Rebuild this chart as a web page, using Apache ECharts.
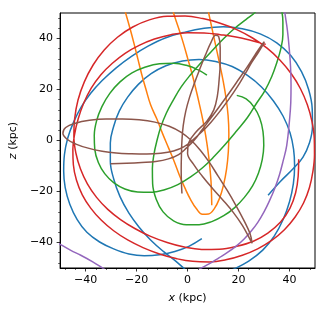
<!DOCTYPE html>
<html><head><meta charset="utf-8">
<script src="https://cdn.jsdelivr.net/npm/echarts@6/dist/echarts.min.js"></script>
<style>html,body{margin:0;padding:0;background:#fff}#c{width:328px;height:314px}</style>
</head><body><div id="c"></div>
<script>
// tick values / labels
const xTickValues = [-40, -20, 0, 20, 40];
const yTickValues = [-40, -20, 0, 20, 40];
const xMinorTicks = [-48,-44,-36,-32,-28,-24,-16,-12,-8,-4,4,8,12,16,24,28,32,36,44,48];
const yMinorTicks = [-48,-44,-36,-32,-28,-24,-16,-12,-8,-4,4,8,12,16,24,28,32,36,44,48];
const xName = '{i|x} (kpc)';
const yName = '{i|z} (kpc)';

// orbit traces [x (kpc), z (kpc)]
const blueA = [[5.6,-38.5],[0.5,-41.5],[-5,-43.5],[-11,-44.8],[-17,-45.2],[-23,-44.5],[-29,-42.5],[-34.5,-39.8],[-39.5,-36],[-43.3,-31],[-46.2,-25],[-48,-18.5],[-48.6,-12],[-48.3,-5.5],[-47,1],[-44.8,7],[-41.8,13],[-38,18.5],[-33.5,23.5],[-28,28.5],[-22,33],[-15.5,37],[-8.5,40.3],[-1,42.5],[6.5,44],[14,44.6],[21.5,43.8],[28.5,41.8],[35,38.3],[40.5,33.3],[44.7,27],[47.5,20],[48.9,12.5],[49,5.5],[47.8,-1],[45.3,-6.5],[41.5,-11],[36.5,-16],[31.6,-21.5]];
const blueB = [[2,-53],[-1,-50.5],[-5,-47],[-9.5,-43.5],[-14.5,-39],[-19,-34],[-23,-28.5],[-26.5,-22],[-29,-15],[-30.3,-8],[-30.3,-1],[-29,5.5],[-26.8,11.5],[-23.5,17],[-19.3,22],[-14.3,26.2],[-8.5,29.3],[-2,31.2],[4.5,31.8],[11,31],[17.5,29],[23.5,25.5],[29,21],[33.7,15.5],[37.5,9.5],[40.2,3],[41.6,-3.5],[42,-10],[41.5,-17],[40,-24],[37.5,-31],[34,-37.5],[29.5,-43],[24,-47.3],[18,-50.5],[12,-53]];
const orangeA = [[-26.4,57],[-24.3,50],[-22.6,44],[-21,38],[-19.5,32],[-18,26],[-16.3,20],[-14.5,14],[-12,8.3],[-9.8,2.7],[-7.5,-2.8],[-5.2,-8.3],[-3.2,-13.6],[-1,-18.7],[1.2,-23.2],[3.5,-26.8],[5.8,-28.9],[8.2,-28.8],[10.5,-26.7],[12.5,-22.8],[14.1,-17.5],[15.3,-11.2],[16,-4.3],[16.2,2.8],[15.9,9.8],[15.1,16.6],[14,23.2],[12.7,29.6],[11.3,36],[9.9,42.5],[8.5,49],[7,56]];
const orangeB = [[-7.5,57],[-5.5,50],[-3.5,44],[-1.6,38],[0.1,32],[1.8,26],[3.3,20],[4.7,14],[6,8],[7.1,2],[8,-4],[8.7,-10],[9.2,-16],[9.4,-21],[9.5,-25.4]];
const green = [[7.6,25.6],[4,27.8],[-0.5,29.5],[-5.5,30.3],[-11,30.1],[-16.5,28.8],[-21.8,26.5],[-26.5,23],[-30.5,18.5],[-33.6,13.3],[-35.7,7.7],[-36.6,2],[-36.4,-3.5],[-35,-8.6],[-32.5,-13],[-29,-16.5],[-24.6,-19],[-19.6,-20.2],[-14.3,-20.3],[-9,-19.3],[-3.8,-17.3],[1.2,-14.3],[6,-10.6],[10.5,-6.2],[15,-1.3],[19.3,3.8],[23.5,9],[27,14.5],[30.3,19.5],[33,25],[35,30.5],[36.6,36],[37.4,41.5],[37.4,46.5],[36.8,51.5],[35.2,55.5],[32.8,57.5],[30.3,56.5],[28.5,53.5],[26.5,50.3],[23,47.5],[18.5,44],[14.2,40],[9.8,35.4],[5,30.2],[1,25.6],[-2.5,21],[-5.5,16],[-8.3,10.8],[-10.5,5.3],[-12,0],[-13.2,-5.5],[-13.8,-11],[-13.7,-17],[-12.3,-23],[-9.6,-28],[-5.5,-31.5],[-0.5,-33],[4.5,-33],[9.5,-31.8],[14.2,-29.5],[18.5,-26.3],[22.3,-22.3],[25.5,-17.8],[27.8,-12.8],[29.3,-7.5],[29.9,-2],[29.6,3.5],[28.3,8.8],[26,13.2],[23,16.3],[19.3,17.7]];
const red = [[30.7,37.7],[25,39.2],[19,40.6],[12.8,41.5],[6.5,42.2],[0,42.3],[-6.5,41.5],[-13,39.8],[-19,37.3],[-24.5,34.2],[-29.5,30.3],[-34,25.8],[-37.8,20.5],[-40.8,14.5],[-42.9,8.5],[-44.3,2.5],[-45,-3.5],[-44.8,-9.5],[-43.6,-15.5],[-41.3,-21.3],[-38,-26.5],[-33.8,-31.3],[-29,-35.4],[-23.5,-39],[-17.5,-42],[-11,-44.5],[-4.5,-46.3],[2,-47.4],[8.5,-47.6],[15,-46.8],[21.5,-45],[27.5,-42.5],[33,-39.2],[38,-35],[42.2,-30],[45.5,-24.5],[47.8,-18.5],[49.2,-12],[49.8,-5.5],[49.7,1],[48.8,7.5],[47,14],[44.3,20.3],[40.7,26.2],[36.3,31.5],[31.2,36.2],[25.5,40.2],[19.3,43.5],[12.8,46],[6,47.8],[-1,48.8],[-8,48.7],[-15,47.3],[-21.5,44.5],[-27.5,40.5],[-32.7,35.5],[-37,29.7],[-40.5,23],[-43,15.8],[-44.3,8.5],[-44.6,1.5],[-43.8,-5],[-42,-11.2],[-39.3,-17],[-35.7,-22.3],[-31.3,-27],[-26.3,-31],[-20.7,-34.5],[-14.5,-37.6],[-8,-40],[-1.3,-41.8],[5.5,-42.7],[12.5,-42.6],[19.3,-41.5],[25.8,-39.5],[31.5,-36.3],[36.5,-32],[40.2,-26.5],[42.4,-20.5],[43.4,-14],[43.6,-7.4]];
const purpleA = [[37.4,57],[38.2,50],[39.2,43],[39.9,36],[40.4,29],[40.6,22],[40.5,15],[40,8],[38.9,-2],[37.5,-8],[36,-13.6],[34.2,-18.8],[32.2,-23.5],[30,-28],[27.5,-32.2],[25,-35.5],[22.3,-38.5],[19.2,-41.3],[15.8,-43.8],[12.3,-46],[8.8,-48.2],[4.5,-50.5],[0,-53]];
const purpleB = [[-53.6,-38.5],[-50,-40.7],[-45.8,-43.1],[-41.9,-45],[-37.2,-47.6],[-33.4,-50],[-30.2,-52.1]];
const brown = [[-30.2,-9.1],[-24,-8.9],[-18,-8.6],[-12.5,-8.2],[-7.5,-7.2],[-3.5,-5.5],[-0.5,-3],[2.5,0],[5.8,4.3],[9.3,9],[13,14],[16.6,19],[20.2,24.2],[23.5,29],[26.6,33.8],[28.9,37.2],[30.1,38.7],[29.6,37.6],[27.8,34.6],[25.3,30.8],[22.5,26],[19.5,21],[16.3,16.3],[12.8,11.6],[9.2,7.2],[5.5,3.3],[1.8,0],[-1.5,-2.5],[-5.5,-4.1],[-10.5,-5],[-16,-5.3],[-22,-5.2],[-28,-4.9],[-33.5,-4.2],[-39,-3],[-43.8,-1.4],[-47.4,0.6],[-48.9,2.8],[-47.8,5.1],[-44,6.8],[-38.5,7.9],[-32,8.4],[-25.5,8.4],[-19,8.1],[-12.8,7.2],[-7.2,5.6],[-2.5,3.2],[1.5,0],[5,-3.8],[8.5,-8.5],[12,-14],[15.5,-19.5],[19,-25.5],[22.2,-31.5],[24.5,-36.5],[25.3,-40.3],[24.1,-38],[21.5,-33.3],[18,-28.3],[14,-23.5],[9.8,-18.8],[5.8,-14],[2.3,-9.3],[0,-5],[0.5,-0.8],[3.5,3.5],[7.5,7.5],[10.3,12],[11.7,17.5],[12.4,24],[12.8,30.5],[12.8,36.5],[12.2,40.8],[11,41.3],[9.2,38.5],[7,33.5],[4.8,28],[2.7,22.5],[0.8,17],[-0.7,11.5],[-1.7,5.8],[-2.2,0],[-2.4,-5.8],[-2.5,-11.5],[-2.4,-16.5],[-2.2,-20.8]];

const traces = [
  {data: blueA, color: '#1f77b4'},
  {data: blueB, color: '#1f77b4'},
  {data: orangeA, color: '#ff7f0e'},
  {data: orangeB, color: '#ff7f0e'},
  {data: green, color: '#2ca02c'},
  {data: red, color: '#d62728'},
  {data: purpleA, color: '#9467bd'},
  {data: purpleB, color: '#9467bd'},
  {data: brown, color: '#8c564b'}
];

const fmt = v => String(v).replace('-', '\u2212');
const font = 'DejaVu Sans';
const labelStyle = {color: '#000', fontSize: 11, fontFamily: font};

function mainAxis(ticks, name, isX) {
  return {
    type: 'value', min: -50, max: 50, gridIndex: 0,
    position: isX ? 'bottom' : 'left',
    name: name, nameLocation: 'middle', nameGap: isX ? 25 : 38,
    nameTextStyle: {color: '#000', fontSize: 11, fontFamily: font,
      rich: {i: {fontStyle: 'italic', fontSize: 11, fontFamily: font, color: '#000'}}},
    axisLine: {show: true, onZero: false, lineStyle: {color: '#000', width: 1}},
    axisTick: {show: true, inside: false, length: 3.5, lineStyle: {color: '#000', width: 0.8}, customValues: ticks},
    axisLabel: Object.assign({show: true, margin: isX ? 7 : 7, formatter: fmt, customValues: ticks}, labelStyle),
    splitLine: {show: false}
  };
}
function minorAxis(ticks, isX) {
  return {
    type: 'value', min: -50, max: 50, gridIndex: 0,
    position: isX ? 'bottom' : 'left',
    axisLine: {show: false, onZero: false},
    axisTick: {show: true, inside: false, length: 2, lineStyle: {color: '#000', width: 0.6}, customValues: ticks},
    axisLabel: {show: false},
    splitLine: {show: false}
  };
}

const chart = echarts.init(document.getElementById('c'), null, {renderer: 'canvas'});
chart.setOption({
  animation: false,
  backgroundColor: '#fff',
  grid: {left: 59, top: 13, width: 256, height: 255, show: true, borderColor: '#000', borderWidth: 1, backgroundColor: 'transparent'},
  xAxis: [mainAxis(xTickValues, xName, true), minorAxis(xMinorTicks, true)],
  yAxis: [mainAxis(yTickValues, yName, false), minorAxis(yMinorTicks, false)],
  series: traces.map(t => ({
    type: 'line', data: t.data, xAxisIndex: 0, yAxisIndex: 0,
    showSymbol: false, symbol: 'none', smooth: 0.4, clip: true,
    lineStyle: {color: t.color, width: 1.5}, itemStyle: {color: t.color},
    emphasis: {disabled: true}
  }))
});
</script></body></html>
